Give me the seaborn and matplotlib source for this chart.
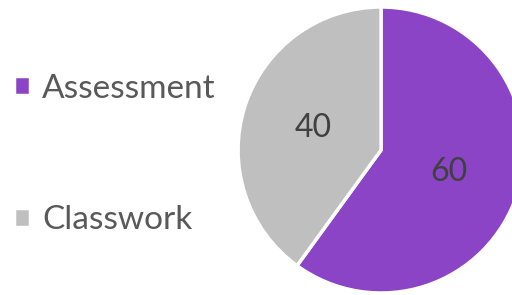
import matplotlib
matplotlib.use("Agg")
import matplotlib.pyplot as plt
import seaborn as sns

# data
categories = ["Assessment", "Classwork"]
values = [60, 40]
colors = ["#8B44C6", "#BFBFBF"]

sns.set_theme(style="white")
plt.rcParams['font.family'] = ['Lato', 'DejaVu Sans']

fig = plt.figure(figsize=(5.12, 2.95), dpi=100)
ax = fig.add_axes([0.465, 0.0068, 0.5586, 0.9695])

wedges, texts, autotexts = ax.pie(
    values,
    colors=colors,
    startangle=90,
    counterclock=False,
    autopct=lambda p: f"{p * sum(values) / 100:.0f}",
    pctdistance=0.5,
    wedgeprops=dict(edgecolor="white", linewidth=2.5),
    textprops=dict(color="#404040", fontsize=23),
)
for w in wedges:
    w.set_clip_on(False)
ax.set_xlim(-1, 1)
ax.set_ylim(-1, 1)
ax.set_aspect("equal")

leg = fig.legend(
    wedges, categories,
    loc="upper left",
    bbox_to_anchor=(0.027, 0.75),
    frameon=False,
    fontsize=24,
    labelcolor="#595959",
    handlelength=0.5,
    handleheight=0.5,
    handletextpad=0.35,
    labelspacing=3.05,
    borderpad=0,
    borderaxespad=0,
)

plt.savefig("out.png", dpi=100)
